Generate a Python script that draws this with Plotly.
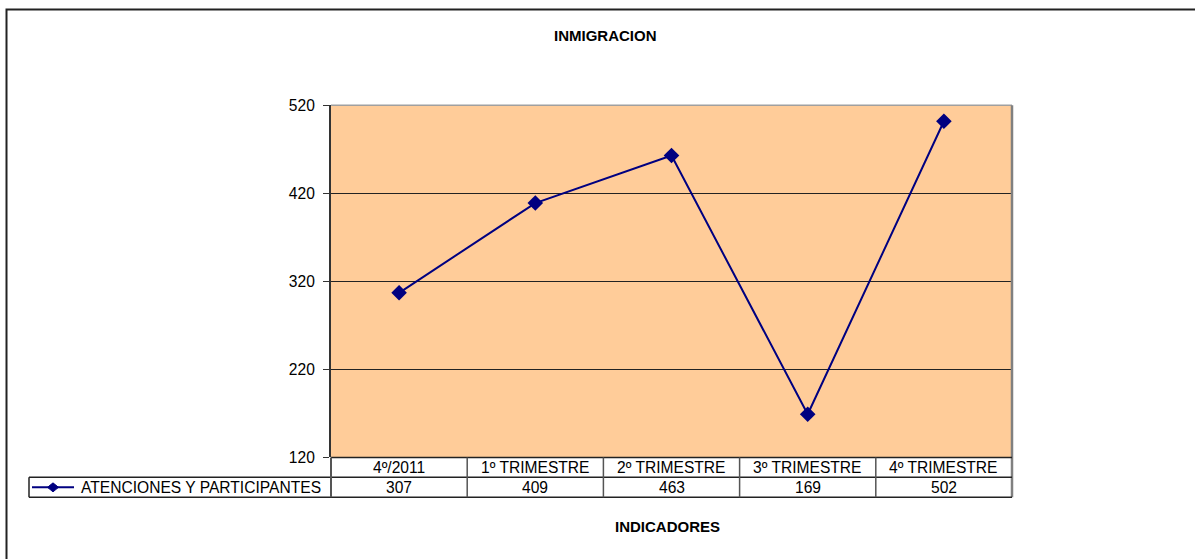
import plotly.graph_objects as go

# ---- data ----
title_text = "INMIGRACION"
x_title = "INDICADORES"
series_name = "ATENCIONES Y PARTICIPANTES"
categories = ["4º/2011", "1º TRIMESTRE", "2º TRIMESTRE", "3º TRIMESTRE", "4º TRIMESTRE"]
values = [307, 409, 463, 169, 502]
y_ticks = [120, 220, 320, 420, 520]

W, H = 1195, 568
# observed capture mapping: image_y = 8 + 0.9714 * page_y
SY, OY = 543 / 559, 8
NAVY = "#000080"
FONT = "Liberation Sans, Arial, sans-serif"
TXT = 15.6


def px(x):
    return x / W


def py(y):
    page_y = max((y - OY) / SY, 0.5)
    return 1 - page_y / H


X0, X1 = 331, 1012  # plot area left/right (px)
Y0, Y1 = 104.5, 457  # plot area top/bottom (px)
R1, R2 = 477, 497  # table row bottoms (px)
LEG_L = 29

fig = go.Figure()
fig.add_trace(go.Scatter(
    x=categories, y=values, mode="lines+markers", name=series_name,
    line=dict(color=NAVY, width=2),
    marker=dict(symbol="diamond", size=12, color=NAVY),
    showlegend=False, cliponaxis=False,
))

fig.update_layout(
    width=W, height=H,
    margin=dict(l=0, r=0, t=0, b=0),
    paper_bgcolor="white",
    plot_bgcolor="#FFCC99",
    font=dict(family=FONT, size=TXT, color="black"),
    xaxis=dict(domain=[px(X0), px(X1)], type="category", range=[-0.5, 4.5],
               showticklabels=False, showgrid=False, zeroline=False, showline=False),
    yaxis=dict(domain=[py(Y1), py(Y0)], range=[120, 520], tickvals=y_ticks,
               showgrid=True, gridcolor="#222222", gridwidth=1, zeroline=False,
               showline=True, linecolor="#333333", linewidth=2,
               ticks="outside", ticklen=6, tickcolor="#333333", ticklabelstandoff=5,
               tickfont=dict(size=TXT)),
)

shapes = []
line_c = "#222222"
# outer chart border
shapes.append(dict(type="rect", xref="paper", yref="paper", x0=px(6.5), x1=px(1230), y0=py(620), y1=py(7),
                   line=dict(color="#222222", width=2), fillcolor="rgba(0,0,0,0)"))
# plot area top & right borders (gray)
shapes.append(dict(type="line", xref="paper", yref="paper", x0=px(X0), x1=px(X1), y0=py(Y0), y1=py(Y0),
                   line=dict(color="#A0A0A0", width=1.5)))
shapes.append(dict(type="line", xref="paper", yref="paper", x0=px(X1), x1=px(X1), y0=py(Y0), y1=py(R2),
                   line=dict(color="#808080", width=2.5)))
# table horizontal lines
shapes.append(dict(type="line", xref="paper", yref="paper", x0=px(X0), x1=px(X1), y0=py(Y1), y1=py(Y1),
                   line=dict(color=line_c, width=1.5)))
for yy in (R1, R2):
    shapes.append(dict(type="line", xref="paper", yref="paper", x0=px(LEG_L), x1=px(X1), y0=py(yy), y1=py(yy),
                       line=dict(color=line_c, width=1.5)))
# table vertical lines
shapes.append(dict(type="line", xref="paper", yref="paper", x0=px(LEG_L), x1=px(LEG_L), y0=py(R1), y1=py(R2),
                   line=dict(color=line_c, width=1.5)))
shapes.append(dict(type="line", xref="paper", yref="paper", x0=px(X0), x1=px(X0), y0=py(Y1), y1=py(R2),
                   line=dict(color="#555555", width=2)))
for i in range(len(categories) - 1):
    shapes.append(dict(type="line", xref="x", yref="paper", x0=i + 0.5, x1=i + 0.5, y0=py(Y1), y1=py(R2),
                       line=dict(color="#555555", width=1.5)))
# legend key (line + diamond)
ly = (R1 + R2) / 2
shapes.append(dict(type="line", xref="paper", yref="paper", x0=px(32), x1=px(74), y0=py(ly), y1=py(ly),
                   line=dict(color=NAVY, width=2)))
cx = 53
d = 5.5
path = (f"M {px(cx - d)} {py(ly)} L {px(cx)} {py(ly - d + 1)} "
        f"L {px(cx + d)} {py(ly)} L {px(cx)} {py(ly + d - 1)} Z")
shapes.append(dict(type="path", xref="paper", yref="paper", path=path,
                   fillcolor=NAVY, line=dict(color=NAVY, width=1)))

annotations = []
annotations.append(dict(text=f"<b>{title_text}</b>", xref="paper", yref="paper", x=px(605), y=py(35),
                        showarrow=False, font=dict(size=15), xanchor="center", yanchor="middle"))
annotations.append(dict(text=f"<b>{x_title}</b>", xref="paper", yref="paper", x=px(667), y=py(526),
                        showarrow=False, font=dict(size=15), xanchor="center", yanchor="middle"))
annotations.append(dict(text=series_name, xref="paper", yref="paper", x=px(79), y=py(ly),
                        showarrow=False, font=dict(size=TXT), xanchor="left", yanchor="middle"))
for c, v in zip(categories, values):
    annotations.append(dict(text=c, xref="x", yref="paper", x=c, y=py((Y1 + R1) / 2),
                            showarrow=False, font=dict(size=TXT), xanchor="center", yanchor="middle"))
    annotations.append(dict(text=str(v), xref="x", yref="paper", x=c, y=py(ly),
                            showarrow=False, font=dict(size=TXT), xanchor="center", yanchor="middle"))

fig.update_layout(shapes=shapes, annotations=annotations)
fig.write_html(
    "out.html",
    config={"displayModeBar": False},
    post_script="document.body.style.margin='0';document.body.style.overflow='hidden';",
)
